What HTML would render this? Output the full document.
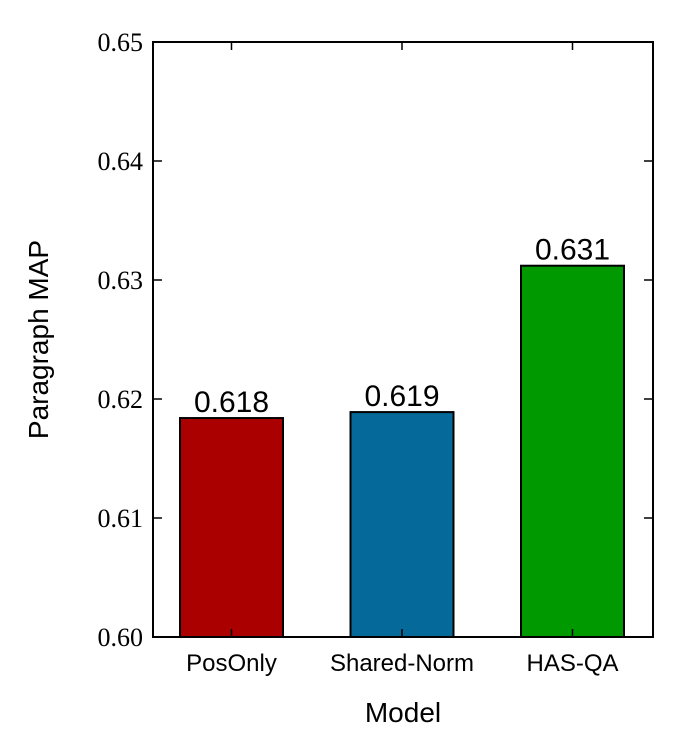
<!DOCTYPE html>
<html><head><meta charset="utf-8"><style>
body{margin:0;background:#fff;}
svg{display:block;}
</style></head><body>
<svg id="chart" width="676" height="756" xmlns="http://www.w3.org/2000/svg"></svg>
<script>
const categories = ["PosOnly", "Shared-Norm", "HAS-QA"];
const values = [0.6184, 0.6189, 0.6312];
const valueLabels = ["0.618", "0.619", "0.631"];
const colors = ["#aa0000", "#056a99", "#009a00"];
const yTicks = [0.60, 0.61, 0.62, 0.63, 0.64, 0.65];
const yTickLabels = ["0.60", "0.61", "0.62", "0.63", "0.64", "0.65"];

const L = 153, R = 653, T = 42, B = 637;
const yMin = 0.60, yMax = 0.65;
const y = v => B - (v - yMin) / (yMax - yMin) * (B - T);
const x = i => 231.5 + 170.5 * i;
const bw = 103;
const svg = document.getElementById('chart');
const NS = 'http://www.w3.org/2000/svg';
function mk(tag, attrs, text) {
  const e = document.createElementNS(NS, tag);
  for (const k in attrs) e.setAttribute(k, attrs[k]);
  if (text !== undefined) e.textContent = text;
  svg.appendChild(e);
  return e;
}
categories.forEach((c, i) => {
  const r = mk('rect', {x: x(i) - bw / 2, y: y(values[i]), width: bw, height: B - y(values[i]), fill: colors[i], stroke: '#000', 'stroke-width': 2});
  
  
  const t = mk('text', {x: x(i), y: y(values[i]) - 6, 'text-anchor': 'middle', 'font-family': 'Liberation Sans, sans-serif', 'font-size': 30}, valueLabels[i]);
  
  
  const xl = mk('text', {x: x(i), y: B + 34, 'text-anchor': 'middle', 'font-family': 'Liberation Sans, sans-serif', 'font-size': 24}, c);
  
  
  const tk1 = mk('line', {x1: x(i), x2: x(i), y1: B, y2: B - 8, stroke: '#000', 'stroke-width': 1.5});
  
  
  const tk2 = mk('line', {x1: x(i), x2: x(i), y1: T, y2: T + 8, stroke: '#000', 'stroke-width': 1.5});
  
  
});
yTicks.forEach((v, i) => {
  const a = mk('line', {x1: L, x2: L + 9, y1: y(v), y2: y(v), stroke: '#000', 'stroke-width': 1.5});
  
  
  const b = mk('line', {x1: R - 9, x2: R, y1: y(v), y2: y(v), stroke: '#000', 'stroke-width': 1.5});
  
  
  const t = mk('text', {x: L - 10, y: y(v) + 9, 'text-anchor': 'end', 'font-family': 'Liberation Serif, serif', 'font-size': 26}, yTickLabels[i]);
  
  
});
const frame = mk('rect', {x: L, y: T, width: R - L, height: B - T, fill: 'none', stroke: '#000', 'stroke-width': 2});


const xt = mk('text', {x: (L + R) / 2, y: 722, 'text-anchor': 'middle', 'font-family': 'Liberation Sans, sans-serif', 'font-size': 28}, 'Model');


const yt = mk('text', {x: 0, y: 0, 'text-anchor': 'middle', 'font-family': 'Liberation Sans, sans-serif', 'font-size': 28, transform: 'translate(48,' + (T + B) / 2 + ') rotate(-90)'}, 'Paragraph MAP');


</script>
</body></html>
